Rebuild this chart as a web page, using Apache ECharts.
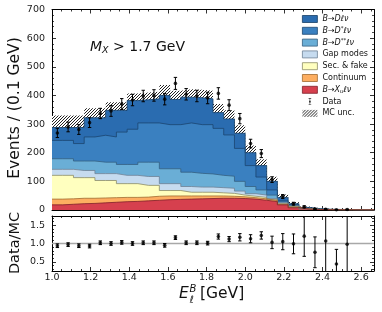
<!DOCTYPE html>
<html><head><meta charset="utf-8">
<script src="https://cdn.jsdelivr.net/npm/echarts@6/dist/echarts.min.js"></script>
<style>html,body{margin:0;padding:0;background:#fff}#c{width:382px;height:312px}</style>
</head><body><div id="c"></div>
<script>
// ---------------- data ----------------
const X_MIN = 1.0, BIN_W = 1 / 18, N_BINS = 30;
const X_MAX = X_MIN + N_BINS * BIN_W;

const xuVals   = [18,20,22,23,25,27,29,30,32,34,36,37,38,39,40,41,41,40,38,34,29,18,8,3,1.5,0.8,0.5,0.3,0.2,0.1];
const contVals = [20,19,19,18,17,16,15,14,13,14,13,12,11,10,9,8,7,6,5,5,4,2,2,0.5,0.3,0.2,0.2,0.2,0.1,0.1];
const secVals  = [83,82,72,72,61,60,48,48,41,38,19,19,13,13,13,11,10,6,5,5,3,2,2,0.5,0.2,0.1,0.1,0.1,0.1,0.05];
const gapVals  = [21,21,25,25,24,24,29,29,31,31,24,24,20,18,18,18,18,14,9,8,4,3,2,0.5,0.2,0.1,0.1,0.1,0.1,0.05];
const dssVals  = [37,37,33,33,40,40,38,38,50,50,52,52,50,48,46,43,42,34,25,18,12,3,2,0.5,0.3,0.2,0.1,0.1,0.1,0.1];
const dsVals   = [64,64,61,84,94,88,113,123,137,137,154,154,172,170,172,164,144,115,73,45,18,4,3,2,1,0.5,0.5,0.3,0.2,0.2];
const dVals    = [45,45,56,67,61,93,76,100,81,84,102,88,90,94,90,55,56,53,45,40,30,12,3,2,1,0.6,0.5,0.4,0.2,0.2];
const mcUnc    = [42,42,42,33,33,28,28,25,25,25,36,30,28,28,28,30,30,28,25,22,16,10,6,3,2,1.5,1,1,0.8,0.5];

const dataVals = [269,290,281,305,337,346,370,384,398,400,387,442,404,398,391,407,366,319,232,197,106,47,22,11,3.5,2.7,0.9,1.5];
const dataErr  = [16,17,17,17,18,19,19,20,20,20,20,21,20,20,20,20,19,18,15,14,10,7,5,3.5,2,1.7,1,1.3];

const ratioVals = [0.94,0.97,0.94,0.93,1.02,1.00,1.03,1.00,1.02,1.02,0.95,1.16,1.02,1.02,1.01,1.19,1.12,1.17,1.13,1.22,1.03,1.05,0.99,1.20,0.76,1.07,0.44,0.98];
const ratioErr  = [0.05,0.05,0.05,0.05,0.05,0.05,0.05,0.05,0.05,0.05,0.05,0.05,0.05,0.05,0.05,0.07,0.07,0.1,0.11,0.1,0.17,0.22,0.27,0.55,0.42,1.2,0.4,1.2];

const xMajorTicks = [1.0,1.2,1.4,1.6,1.8,2.0,2.2,2.4,2.6];
const yRatioTicks = [0.5,1.0,1.5];

// ---------------- helpers ----------------
const edges = Array.from({length: N_BINS + 1}, (_, i) => X_MIN + i * BIN_W);
const centers = Array.from({length: N_BINS}, (_, i) => X_MIN + (i + 0.5) * BIN_W);
function stepData(vals) {
  const d = vals.map((v, i) => [edges[i], v]);
  d.push([edges[N_BINS], vals[N_BINS - 1]]);
  return d;
}
const xMinor = [];
for (let k = 21; k <= 53; k++) { const v = k * 0.05; if (k % 4 !== 0) xMinor.push(+v.toFixed(2)); }
const yRatioMinor = [];
for (let k = 3; k <= 17; k++) { if (k % 5 !== 0) yRatioMinor.push(+(k * 0.1).toFixed(1)); }

// hatch pattern
const pc = document.createElement('canvas');
pc.width = 6; pc.height = 6;
(function () {
  const g = pc.getContext('2d');
  g.fillStyle = '#fff'; g.fillRect(0, 0, 6, 6);
  g.strokeStyle = '#222'; g.lineWidth = 1;
  for (let k = -6; k <= 12; k += 3) { g.beginPath(); g.moveTo(-1, k + 1); g.lineTo(k + 1, -1); g.stroke(); }
})();
const hatch = {image: pc, repeat: 'repeat'};

const FONT = 'DejaVu Sans';
// bottom to top
const comps = [
  {name: 'B→Xuℓν',    vals: xuVals,   color: '#d6404e', edge: '#7e1f2a'},
  {name: 'Continuum', vals: contVals, color: '#fdae61', edge: '#a06a30'},
  {name: 'Sec. & fake', vals: secVals, color: '#ffffbf', edge: '#8c8c66'},
  {name: 'Gap modes', vals: gapVals,  color: '#c6dbef', edge: '#6f8296'},
  {name: 'B→D**ℓν',   vals: dssVals,  color: '#6aaed6', edge: '#355f80'},
  {name: 'B→D*ℓν',    vals: dsVals,   color: '#3a80c0', edge: '#1c4570'},
  {name: 'B→Dℓν',     vals: dVals,    color: '#2a6cb0', edge: '#173f66'}
];
// cumulative tops (manual stacking)
const cum = [];
comps.forEach((c, k) => cum.push(c.vals.map((v, i) => v + (k ? cum[k - 1][i] : 0))));
const mcTotal = cum[comps.length - 1];
const mcUpper = mcTotal.map((v, i) => v + mcUnc[i]);

const series = [];
series.push({
  name: 'MC unc.', type: 'line', xAxisIndex: 0, yAxisIndex: 0, step: 'end',
  data: stepData(mcUpper), symbol: 'none', silent: true, lineStyle: {opacity: 0},
  itemStyle: {color: '#333'}, areaStyle: {color: hatch, opacity: 1}, z: 1
});
for (let k = comps.length - 1; k >= 0; k--) {
  const c = comps[k];
  series.push({
    name: c.name, type: 'line', xAxisIndex: 0, yAxisIndex: 0, step: 'end',
    data: stepData(cum[k]), symbol: 'none', silent: true, z: 2,
    lineStyle: {color: c.edge, width: 0.8}, itemStyle: {color: c.color},
    areaStyle: {color: c.color, opacity: 1}
  });
}

function errRender(capHalf, yMin, yMax) {
  return function (params, api) {
    const x = api.value(0), y = api.value(1), e = api.value(2);
    const lo = Math.max(y - e, yMin), hi = Math.min(y + e, yMax);
    const pL = api.coord([x, lo]), pH = api.coord([x, hi]);
    const st = {stroke: '#000', lineWidth: 1};
    const ch = [{type: 'line', shape: {x1: pL[0], y1: pL[1], x2: pH[0], y2: pH[1]}, style: st}];
    if (y - e > yMin) ch.push({type: 'line', shape: {x1: pL[0] - capHalf, y1: pL[1], x2: pL[0] + capHalf, y2: pL[1]}, style: st});
    if (y + e < yMax) ch.push({type: 'line', shape: {x1: pH[0] - capHalf, y1: pH[1], x2: pH[0] + capHalf, y2: pH[1]}, style: st});
    return {type: 'group', children: ch};
  };
}

series.push({
  name: 'DataErr', type: 'custom', xAxisIndex: 0, yAxisIndex: 0, z: 5, silent: true,
  renderItem: errRender(1.7, 0, 700),
  data: dataVals.map((v, i) => [centers[i], v, dataErr[i]])
});
series.push({
  name: 'Data', type: 'scatter', xAxisIndex: 0, yAxisIndex: 0, z: 6, silent: true,
  symbol: 'circle', symbolSize: 3.6, itemStyle: {color: '#000'},
  data: dataVals.map((v, i) => [centers[i], v])
});
series.push({
  name: 'one', type: 'line', xAxisIndex: 4, yAxisIndex: 2, z: 1, silent: true, symbol: 'none',
  lineStyle: {color: '#a8a8a8', width: 1.6}, data: [[X_MIN, 1], [X_MAX, 1]]
});
series.push({
  name: 'RatioErr', type: 'custom', xAxisIndex: 4, yAxisIndex: 2, z: 5, silent: true,
  renderItem: errRender(1.7, 0.25, 1.75),
  data: ratioVals.map((v, i) => [centers[i], v, ratioErr[i]])
});
series.push({
  name: 'RatioPts', type: 'scatter', xAxisIndex: 4, yAxisIndex: 2, z: 6, silent: true,
  symbol: 'circle', symbolSize: 3.6, itemStyle: {color: '#000'},
  data: ratioVals.map((v, i) => [centers[i], v])
});

// ---------------- axes ----------------
const lineS = {show: true, onZero: false, lineStyle: {color: '#000', width: 1}};
const labS = {fontFamily: FONT, fontSize: 9.5, color: '#222'};
function xAx(grid, pos, major, labels) {
  return {
    type: 'value', gridIndex: grid, position: pos, min: X_MIN, max: X_MAX,
    axisLine: major ? lineS : {show: false, onZero: false},
    axisTick: {show: true, inside: true, length: major ? 4 : 2, lineStyle: {color: '#000', width: 0.8},
      customValues: major ? xMajorTicks : xMinor},
    axisLabel: labels ? Object.assign({show: true, margin: 2, customValues: xMajorTicks,
      formatter: v => v.toFixed(1)}, labS) : {show: false},
    splitLine: {show: false}
  };
}
const xAxis = [
  xAx(0, 'bottom', true, false), xAx(0, 'bottom', false, false),
  xAx(0, 'top', true, false), xAx(0, 'top', false, false),
  xAx(1, 'bottom', true, true), xAx(1, 'bottom', false, false),
  xAx(1, 'top', true, false), xAx(1, 'top', false, false)
];
function yMain(pos, labels) {
  return {
    type: 'value', gridIndex: 0, position: pos, min: 0, max: 700, interval: 100,
    axisLine: lineS,
    axisTick: {show: true, inside: true, length: 4, lineStyle: {color: '#000', width: 0.8}},
    minorTick: {show: true, splitNumber: 5, length: 2, lineStyle: {color: '#000', width: 0.7}},
    axisLabel: labels ? Object.assign({show: true, margin: 7}, labS) : {show: false},
    splitLine: {show: false}, minorSplitLine: {show: false}
  };
}
function yRatio(pos, major, labels) {
  return {
    type: 'value', gridIndex: 1, position: pos, min: 0.25, max: 1.75,
    axisLine: major ? lineS : {show: false, onZero: false},
    axisTick: {show: true, inside: true, length: major ? 4 : 2, lineStyle: {color: '#000', width: 0.8},
      customValues: major ? yRatioTicks : yRatioMinor},
    axisLabel: labels ? Object.assign({show: true, margin: 7, customValues: yRatioTicks,
      formatter: v => v.toFixed(1)}, labS) : {show: false},
    splitLine: {show: false}
  };
}
const yAxis = [
  yMain('left', true), yMain('right', false),
  yRatio('left', true, true), yRatio('left', false, false),
  yRatio('right', true, false), yRatio('right', false, false)
];

// ---------------- legend ----------------
const legendRich = {
  'B→Dℓν':   '{i|B}{n|→}{i|Dℓν}',
  'B→D*ℓν':  '{i|B}{n|→}{i|D}{sup|*}{i|ℓν}',
  'B→D**ℓν': '{i|B}{n|→}{i|D}{sup|**}{i|ℓν}',
  'B→Xuℓν':  '{i|B}{n|→}{i|X}{sub|u}{i|ℓν}'
};
const legendOrder = ['B→Dℓν', 'B→D*ℓν', 'B→D**ℓν', 'Gap modes', 'Sec. & fake', 'Continuum', 'B→Xuℓν'];
const legendData = legendOrder.map(n => {
  const c = comps.find(k => k.name === n);
  return {name: n, icon: 'rect', itemStyle: {color: c.color, borderColor: c.edge, borderWidth: 0.8}};
});
legendData.push({name: 'Data', icon: 'path://M2.4,0H3.6V16H2.4Z M0,0H6V1.4H0Z M0,14.6H6V16H0Z M1,6H5V10H1Z',
  itemStyle: {color: '#000', borderWidth: 0}});
legendData.push({name: 'MC unc.', icon: 'rect', itemStyle: {color: hatch, borderWidth: 0}});

const chart = echarts.init(document.getElementById('c'), null, {renderer: 'canvas'});
chart.setOption({
  animation: false,
  backgroundColor: '#fff',
  grid: [
    {left: 52, right: 8, top: 9.5, height: 200.5, containLabel: false, outerBoundsMode: 'none'},
    {left: 52, right: 8, top: 216, height: 55, containLabel: false, outerBoundsMode: 'none'}
  ],
  xAxis, yAxis,
  legend: {
    orient: 'vertical', left: 302, top: 14, itemWidth: 15, itemHeight: 7, itemGap: 1.8,
    selectedMode: false, padding: 0, data: legendData,
    formatter: n => legendRich[n] || ('{n|' + n + '}'),
    textStyle: {
      fontFamily: FONT, fontSize: 8, color: '#111', lineHeight: 10,
      rich: {
        n: {fontFamily: FONT, fontSize: 8, lineHeight: 10, color: '#111'},
        i: {fontFamily: FONT, fontSize: 8, fontStyle: 'italic', lineHeight: 10, color: '#111'},
        sup: {fontFamily: FONT, fontSize: 5.5, lineHeight: 6, verticalAlign: 'top', color: '#111'},
        sub: {fontFamily: FONT, fontSize: 5.5, fontStyle: 'italic', lineHeight: 6, verticalAlign: 'bottom', color: '#111'}
      }
    }
  },
  graphic: [
    {type: 'text', x: 90, y: 47, silent: true, style: {
      text: '{i|M}{sub|X}{n| > 1.7 GeV}', align: 'left', verticalAlign: 'middle', fill: '#111',
      rich: {
        i: {fontFamily: FONT, fontSize: 14, fontStyle: 'italic', lineHeight: 18, fill: '#111'},
        n: {fontFamily: FONT, fontSize: 14, lineHeight: 18, fill: '#111'},
        sub: {fontFamily: FONT, fontSize: 9.5, fontStyle: 'italic', lineHeight: 10, verticalAlign: 'bottom', fill: '#111'}
      }}},
    {type: 'text', x: 15, y: 108, rotation: Math.PI / 2, silent: true, style: {
      text: 'Events / (0.1 GeV)', font: '15.5px "DejaVu Sans"', fill: '#111', align: 'center', verticalAlign: 'middle'}},
    {type: 'text', x: 15, y: 243, rotation: Math.PI / 2, silent: true, style: {
      text: 'Data/MC', font: '14.5px "DejaVu Sans"', fill: '#111', align: 'center', verticalAlign: 'middle'}},
    {type: 'text', x: 179, y: 294, silent: true, style: {
      text: 'E', font: 'italic 15.5px "DejaVu Sans"', fill: '#111', align: 'left', verticalAlign: 'middle'}},
    {type: 'text', x: 189.5, y: 289, silent: true, style: {
      text: 'B', font: 'italic 10px "DejaVu Sans"', fill: '#111', align: 'left', verticalAlign: 'middle'}},
    {type: 'text', x: 189.5, y: 300, silent: true, style: {
      text: 'ℓ', font: 'italic 10px "DejaVu Sans"', fill: '#111', align: 'left', verticalAlign: 'middle'}},
    {type: 'text', x: 200, y: 294, silent: true, style: {
      text: '[GeV]', font: '15.5px "DejaVu Sans"', fill: '#111', align: 'left', verticalAlign: 'middle'}}
  ],
  series
});
</script>
</body></html>
